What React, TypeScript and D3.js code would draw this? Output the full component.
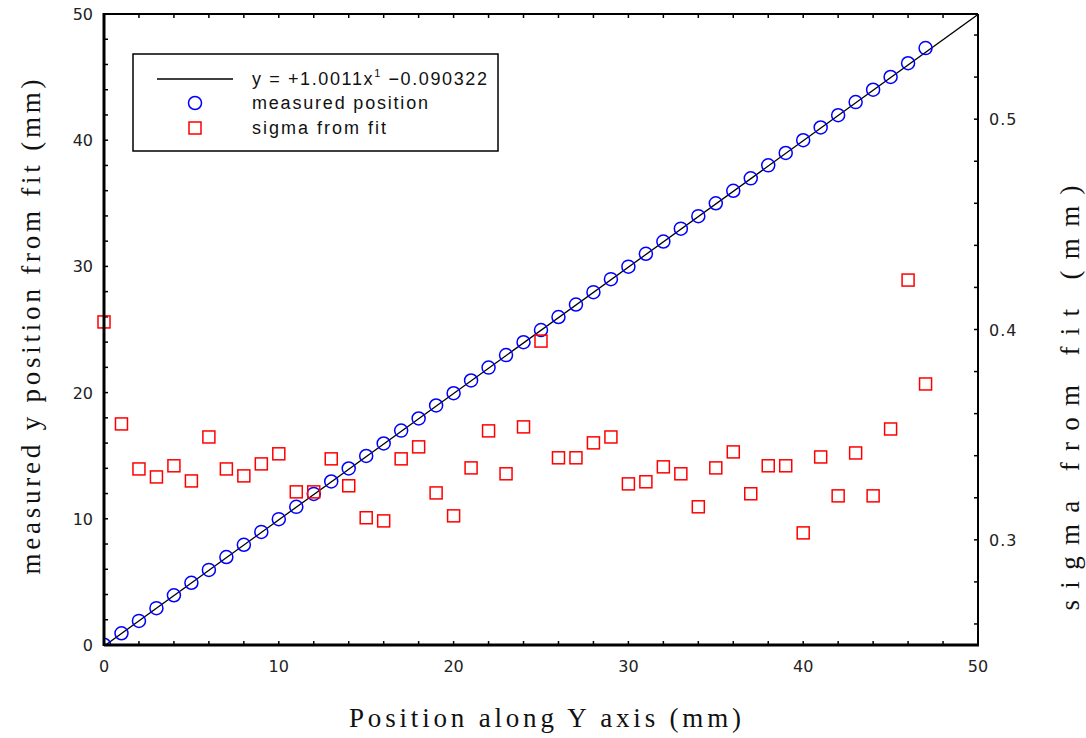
import React from "react";
import * as d3 from "d3";

const positions = [0,1,2,3,4,5,6,7,8,9,10,11,12,13,14,15,16,17,18,19,20,21,22,23,24,25,26,27,28,29,30,31,32,33,34,35,36,37,38,39,40,41,42,43,44,45,46,47];
const measured = [0.02,0.93,1.91,2.92,3.94,4.93,5.95,6.97,7.94,8.96,9.97,10.95,11.97,12.96,13.99,14.98,15.97,16.99,17.95,18.98,19.95,20.96,21.98,22.97,23.99,24.96,25.99,26.98,27.96,28.99,29.98,31.0,31.97,32.99,33.98,35.0,35.99,36.98,38.01,38.99,40.0,41.01,41.98,43.02,44.0,45.01,46.1,47.3];
const sigma = [0.4036,0.3551,0.3337,0.3299,0.3352,0.3280,0.3489,0.3337,0.3304,0.3361,0.3409,0.3228,0.3228,0.3385,0.3257,0.3105,0.3090,0.3385,0.3442,0.3223,0.3114,0.3342,0.3518,0.3314,0.3537,0.3945,0.3390,0.3390,0.3461,0.3489,0.3266,0.3276,0.3347,0.3314,0.3157,0.3342,0.3418,0.3219,0.3352,0.3352,0.3033,0.3394,0.3209,0.3413,0.3209,0.3527,0.4235,0.3741];
const fitSlope = 1.0011;
const fitIntercept = -0.090322;
const xTicks = [0,10,20,30,40,50];
const yLeftTicks = [0,10,20,30,40,50];
const yRightTicks = [0.3,0.4,0.5];
const legendLabels = ["measured position", "sigma from fit"];

export default function App() {
  const W = 1086, H = 738;
  const L = 104, R = 978, T = 14, B = 645;
  const x = d3.scaleLinear().domain([0, 50]).range([L, R]);
  const yL = d3.scaleLinear().domain([0, 50]).range([B, T]);
  const yR = d3.scaleLinear().domain([0.25, 0.55]).range([B, T]);
  const xMinor = d3.range(0, 50.001, 2);
  const yMinor = d3.range(0, 50.001, 2);
  const rMinor = d3.range(0.26, 0.5401, 0.02);
  const fitLine = d3.line<number>().x(v => x(v)).y(v => yL(fitSlope * v + fitIntercept));
  const tickFont = "DejaVu Sans, sans-serif";
  const titleFont = "Liberation Serif, serif";
  const sq = 12;
  return (
    <svg width={W} height={H} style={{ position: "absolute", left: 0, top: 0, background: "#fff" }}>
      <defs>
        <clipPath id="plot"><rect x={L} y={T} width={R - L} height={B - T} /></clipPath>
      </defs>
      <rect x={0} y={0} width={W} height={H} fill="#fff" />
      {xMinor.map((v, i) => (
        <g key={"xt" + i}>
          <line x1={x(v)} x2={x(v)} y1={B} y2={B - 4} stroke="#000" strokeWidth={1.5} />
          <line x1={x(v)} x2={x(v)} y1={T} y2={T + 4} stroke="#000" strokeWidth={1.5} />
        </g>
      ))}
      {yMinor.map((v, i) => (
        <line key={"yt" + i} x1={L} x2={L + 4} y1={yL(v)} y2={yL(v)} stroke="#000" strokeWidth={1.5} />
      ))}
      {rMinor.map((v, i) => (
        <line key={"rt" + i} x1={R} x2={R - 4} y1={yR(v)} y2={yR(v)} stroke="#000" strokeWidth={1.5} />
      ))}
      <path d={fitLine([0, 50]) || ""} fill="none" stroke="#000" strokeWidth={1.3} clipPath="url(#plot)" />
      <g clipPath="url(#plot)">
        {positions.map((p, i) => (
          <circle key={"c" + i} cx={x(p)} cy={yL(measured[i])} r={6.5} fill="none" stroke="#0000ff" strokeWidth={1.5} />
        ))}
      </g>
      {positions.map((p, i) => (
        <rect key={"s" + i} x={x(p) - sq / 2} y={yR(sigma[i]) - sq / 2} width={sq} height={sq} fill="none" stroke="#ff0000" strokeWidth={1.5} />
      ))}
      <line x1={L} x2={R} y1={T} y2={T} stroke="#000" strokeWidth={2} />
      <line x1={R} x2={R} y1={T} y2={B} stroke="#000" strokeWidth={2} />
      <line x1={L} x2={L} y1={T - 1} y2={B + 1} stroke="#000" strokeWidth={3} />
      <line x1={L} x2={R + 1} y1={B} y2={B} stroke="#000" strokeWidth={3} />
      {xTicks.map(v => (
        <text key={"xl" + v} x={x(v)} y={672} textAnchor="middle" fontFamily={tickFont} fontSize={16} fill="#222">{v}</text>
      ))}
      {yLeftTicks.map(v => (
        <text key={"yl" + v} x={93} y={yL(v) + 6} textAnchor="end" fontFamily={tickFont} fontSize={16} fill="#222">{v}</text>
      ))}
      {yRightTicks.map(v => (
        <text key={"rl" + v} x={989} y={yR(v) + 6} textAnchor="start" fontFamily={tickFont} fontSize={16} fill="#222" letterSpacing={1}>{v.toFixed(1)}</text>
      ))}
      <text x={545} y={727} textAnchor="middle" fontFamily={titleFont} fontSize={27} textLength={392} lengthAdjust="spacing" fill="#111">Position along Y axis (mm)</text>
      <text transform={`translate(40,${327}) rotate(-90)`} textAnchor="middle" fontFamily={titleFont} fontSize={27} textLength={495} lengthAdjust="spacing" fill="#111">measured y position from fit (mm)</text>
      <text transform={`translate(1079,${398}) rotate(-90)`} textAnchor="middle" fontFamily={titleFont} fontSize={27} textLength={425} lengthAdjust="spacing" fill="#111">sigma from fit (mm)</text>
      <rect x={133} y={54} width={365} height={97} fill="#fff" stroke="#000" strokeWidth={1.5} />
      <line x1={157} x2={233} y1={79} y2={79} stroke="#000" strokeWidth={1.3} />
      <circle cx={195} cy={103} r={6.5} fill="none" stroke="#0000ff" strokeWidth={1.5} />
      <rect x={195 - sq / 2} y={128 - sq / 2} width={sq} height={sq} fill="none" stroke="#ff0000" strokeWidth={1.5} />
      <text x={252} y={85} fontFamily="Liberation Sans, Arial, sans-serif" fontSize={18} fill="#111" textLength={235} lengthAdjust="spacing">
        {"y = +" + fitSlope.toFixed(4) + "x"}
        <tspan dy={-8} fontSize={11}>1</tspan>
        <tspan dy={8}>{" \u2212" + Math.abs(fitIntercept).toFixed(6)}</tspan>
      </text>
      <text x={252} y={109} fontFamily="Liberation Sans, Arial, sans-serif" fontSize={18} fill="#111" textLength={176} lengthAdjust="spacing">{legendLabels[0]}</text>
      <text x={252} y={134} fontFamily="Liberation Sans, Arial, sans-serif" fontSize={18} fill="#111" textLength={134} lengthAdjust="spacing">{legendLabels[1]}</text>
    </svg>
  );
}
